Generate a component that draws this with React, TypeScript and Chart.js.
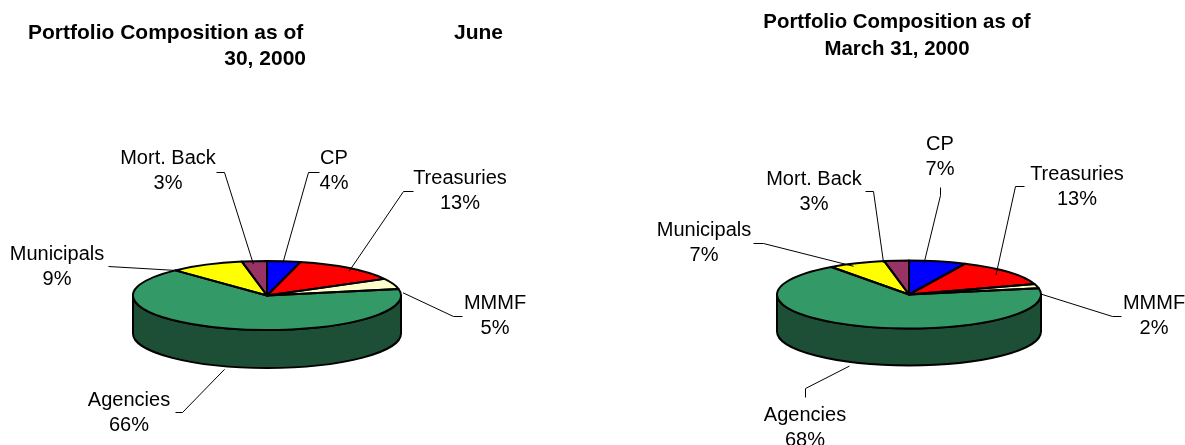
import React, { useEffect, useRef } from "react";
import { Chart, registerables } from "chart.js";

Chart.register(...registerables);

const categories = ["CP", "Treasuries", "MMMF", "Agencies", "Municipals", "Mort. Back"];
const juneValues = [4, 13, 5, 66, 9, 3];
const marchValues = [7, 13, 2, 68, 7, 3];
const sliceColors = ["#0000FF", "#FF0000", "#FFFFCC", "#339966", "#FFFF00", "#993366"];
const sideColors = ["#000080", "#800000", "#808066", "#1D4F37", "#808000", "#4D1A33"];

const LABEL_FONT = '20px "Liberation Sans", Arial, sans-serif';
const LABEL_GAP = 25.6;

type Leader = { text: [number, number]; elbow: [number, number][]; off: [number, number] };
type Layout = {
  left: number; width: number; cx: number; cy: number; rx: number; ry: number; depth: number;
  titleFont: string;
  titles: { s: string; x: number; y: number; align: CanvasTextAlign }[];
  leaders: Leader[];
};

const juneLayout: Layout = {
  left: 0, width: 592, cx: 267, cy: 295.5, rx: 134, ry: 34.5, depth: 38,
  titleFont: 'bold 21px "Liberation Sans", Arial, sans-serif',
  titles: [
    { s: "Portfolio Composition as of", x: 28, y: 33, align: "left" },
    { s: "June", x: 503, y: 33, align: "right" },
    { s: "30, 2000", x: 306, y: 59, align: "right" },
  ],
  leaders: [
    { text: [334, 158], elbow: [[319, 172], [308, 172]], off: [-1, 2] },
    { text: [460, 178], elbow: [[413, 191], [403, 191]], off: [0, 3] },
    { text: [495, 303], elbow: [[462, 316], [453, 316]], off: [10, 9] },
    { text: [129, 400], elbow: [[175, 412], [182, 412]], off: [-1, 3] },
    { text: [57, 254], elbow: [[108, 266]], off: [-25, 6] },
    { text: [168, 158], elbow: [[216, 172], [224, 172]], off: [-1, 3] },
  ],
};

const marchLayout: Layout = {
  left: 592, width: 593, cx: 909, cy: 294.5, rx: 132, ry: 34, depth: 37,
  titleFont: 'bold 20.4px "Liberation Sans", Arial, sans-serif',
  titles: [
    { s: "Portfolio Composition as of", x: 897, y: 22, align: "center" },
    { s: "March 31, 2000", x: 897, y: 49, align: "center" },
  ],
  leaders: [
    { text: [940, 144], elbow: [[940, 187], [940, 195]], off: [-14, 3] },
    { text: [1077, 174], elbow: [[1024, 186], [1015, 186]], off: [-12, 3] },
    { text: [1154, 303], elbow: [[1121, 316], [1112, 316]], off: [4, 8] },
    { text: [805, 415], elbow: [[805, 397], [805, 388]], off: [-11, 3] },
    { text: [704, 230], elbow: [[753, 243], [763, 243]], off: [-3, 3] },
    { text: [814, 179], elbow: [[865, 191], [873, 191]], off: [-13, 2] },
  ],
};

function pie3d(layout: Layout, colors: string[], sides: string[]) {
  const arcsOf = (chart: any) => chart.getDatasetMeta(0).data as any[];
  return {
    id: "pie3d",
    beforeDatasetsDraw(chart: any) {
      const ctx: CanvasRenderingContext2D = chart.ctx;
      const { rx, ry, depth, left } = layout;
      const cx = layout.cx - left;
      const cy = layout.cy;
      // front wall, only where a slice faces the viewer
      ctx.save();
      ctx.lineWidth = 2;
      ctx.strokeStyle = "#000";
      ctx.lineJoin = "round";
      arcsOf(chart).forEach((arc, i) => {
        for (const k of [-2, 0, 2]) {
          const a = Math.max(arc.startAngle, k * Math.PI);
          const b = Math.min(arc.endAngle, k * Math.PI + Math.PI);
          if (b <= a) continue;
          ctx.beginPath();
          ctx.ellipse(cx, cy, rx, ry, 0, a, b);
          ctx.ellipse(cx, cy + depth, rx, ry, 0, b, a, true);
          ctx.closePath();
          ctx.fillStyle = sides[i];
          ctx.fill();
          ctx.stroke();
        }
      });
      ctx.restore();
      // squash the library's round pie into the ellipse
      const first = arcsOf(chart)[0];
      ctx.save();
      ctx.translate(cx, cy);
      ctx.scale(1, ry / first.outerRadius);
      ctx.translate(-first.x, -first.y);
    },
    afterDatasetsDraw(chart: any) {
      const ctx: CanvasRenderingContext2D = chart.ctx;
      ctx.restore();
      const { rx, ry, depth, left } = layout;
      const cx = layout.cx - left;
      const cy = layout.cy;
      const arcs = arcsOf(chart);
      ctx.save();
      ctx.lineWidth = 2;
      ctx.strokeStyle = "#000";
      ctx.lineJoin = "round";
      arcs.forEach((arc) => {
        ctx.beginPath();
        ctx.moveTo(cx, cy);
        ctx.ellipse(cx, cy, rx, ry, 0, arc.startAngle, arc.endAngle);
        ctx.closePath();
        ctx.stroke();
      });
      ctx.restore();

      // leader lines and data labels
      const values = chart.data.datasets[0].data as number[];
      const labels = chart.data.labels as string[];
      const total = values.reduce((s, v) => s + v, 0);
      ctx.save();
      ctx.lineWidth = 1;
      ctx.strokeStyle = "#000";
      ctx.fillStyle = "#000";
      ctx.textAlign = "center";
      ctx.textBaseline = "middle";
      ctx.font = LABEL_FONT;
      arcs.forEach((arc, i) => {
        const l = layout.leaders[i];
        const mid = (arc.startAngle + arc.endAngle) / 2;
        const front = Math.sin(mid) > 0 ? depth : 0;
        const ex = cx + rx * Math.cos(mid) + l.off[0];
        const ey = cy + ry * Math.sin(mid) + front + l.off[1];
        ctx.beginPath();
        l.elbow.forEach(([x, y], j) => {
          if (j === 0) ctx.moveTo(x - left + 0.5, y + 0.5);
          else ctx.lineTo(x - left + 0.5, y + 0.5);
        });
        ctx.lineTo(ex, ey);
        ctx.stroke();
        const tx = l.text[0] - left;
        ctx.fillText(labels[i], tx, l.text[1]);
        ctx.fillText(`${Math.round((values[i] / total) * 100)}%`, tx, l.text[1] + LABEL_GAP);
      });
      ctx.font = layout.titleFont;
      layout.titles.forEach((t) => {
        ctx.textAlign = t.align;
        ctx.fillText(t.s, t.x - left, t.y);
      });
      ctx.restore();
    },
  };
}

function PiePanel({ layout, values }: { layout: Layout; values: number[] }) {
  const ref = useRef<HTMLCanvasElement>(null);
  useEffect(() => {
    const chart = new Chart(ref.current as HTMLCanvasElement, {
      type: "pie",
      data: {
        labels: categories,
        datasets: [{ data: values, backgroundColor: sliceColors, borderWidth: 0, clip: false } as any],
      },
      options: {
        animation: false,
        responsive: false,
        devicePixelRatio: 1,
        layout: {
          padding: {
            left: layout.cx - layout.left - layout.rx,
            right: layout.width - (layout.cx - layout.left) - layout.rx,
            top: 0,
            bottom: 0,
          },
        },
        plugins: { legend: { display: false }, tooltip: { enabled: false }, title: { display: false } },
      },
      plugins: [pie3d(layout, sliceColors, sideColors)],
    } as any);
    return () => chart.destroy();
  }, []);
  return (
    <canvas
      ref={ref}
      width={layout.width}
      height={445}
      style={{ position: "fixed", left: layout.left, top: 0, width: layout.width, height: 445 }}
    />
  );
}

export default function App() {
  return (
    <div>
      <PiePanel layout={juneLayout} values={juneValues} />
      <PiePanel layout={marchLayout} values={marchValues} />
    </div>
  );
}
